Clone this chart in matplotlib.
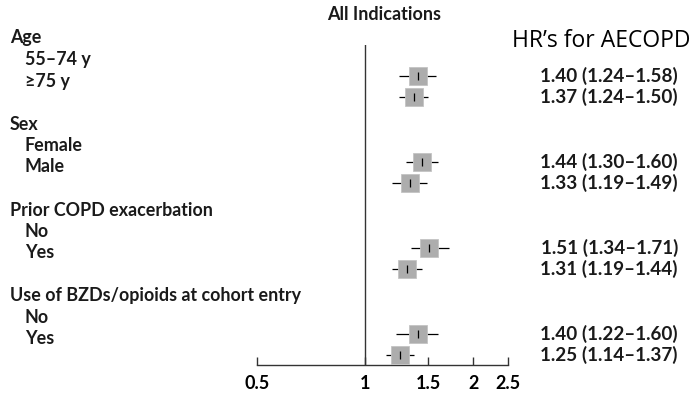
import numpy as np
import matplotlib.pyplot as plt

# rows of the left-hand label column (header rows have no indent)
labels = ["Age", "55\u201374 y", "\u226575 y", "",
          "Sex", "Female", "Male", "",
          "Prior COPD exacerbation", "No", "Yes", "",
          "Use of BZDs/opioids at cohort entry", "No", "Yes"]
is_header = [True, False, False, False,
             True, False, False, False,
             True, False, False, False,
             True, False, False]

# hazard ratios and 95% CI, one per subgroup row
data_rows = [1, 2, 5, 6, 9, 10, 13, 14]
hr = [1.40, 1.37, 1.44, 1.33, 1.51, 1.31, 1.40, 1.25]
lo = [1.24, 1.24, 1.30, 1.19, 1.34, 1.19, 1.22, 1.14]
hi = [1.58, 1.50, 1.60, 1.49, 1.71, 1.44, 1.60, 1.37]
row_shift = 0.76  # the marks sit a bit below their labels in the original

xticks = [0.5, 1, 1.5, 2, 2.5]
xticklabels = ["0.5", "1", "1.5", "2", "2.5"]

W, H = 693, 396
fig = plt.figure(figsize=(W / 100, H / 100), dpi=100)

bold = dict(family="Lato", fontweight="bold")

# axes: x 257..508 px, y 45..365 px
ax = fig.add_axes([257 / W, 1 - 365 / H, (508 - 257) / W, (365 - 45) / H])
ax.set_xscale("log")
ax.set_xlim(0.5, 2.5)
top_row = (45 - 38) / 21.5
bot_row = (365 - 38) / 21.5
ax.set_ylim(bot_row, top_row)

for s in ["top", "right", "left"]:
    ax.spines[s].set_visible(False)
ax.spines["bottom"].set_color("#333333")
ax.spines["bottom"].set_linewidth(1.0)
ax.axvline(1, color="#333333", lw=1.0)

ax.set_yticks([])
ax.set_xticks(xticks)
ax.set_xticklabels(xticklabels, **bold, fontsize=13)
ax.minorticks_off()
ax.tick_params(axis="x", direction="in", length=6, width=1, color="#333333", pad=7)

ys = np.array(data_rows) + row_shift
ax.hlines(ys, lo, hi, color="black", lw=0.9, zorder=2)
ax.plot(hr, ys, "s", ms=12.5, mfc="#adadad", mec="#c4c4c4", mew=0.6, zorder=3)
ax.plot(hr, ys, "|", ms=5.5, color="black", mew=0.9, zorder=4)

# left column labels
for i, (lab, hd) in enumerate(zip(labels, is_header)):
    if not lab:
        continue
    ypix = 38 + 21.5 * i
    xpix = 10 if hd else 25
    fig.text(xpix / W, 1 - ypix / H, lab, ha="left", va="center",
             fontsize=12.9, color="#1a1a1a", **bold)

# right column with HR (CI)
for y, h, l, u in zip(ys, hr, lo, hi):
    ypix = 38 + 21.5 * y
    fig.text(678 / W, 1 - ypix / H, f"{h:.2f} ({l:.2f}\u2013{u:.2f})",
             ha="right", va="center", fontsize=13.6, color="#1a1a1a", **bold)

fig.text(691 / W, 1 - 41 / H, "HR\u2019s for AECOPD", ha="right", va="center",
         fontsize=16.5, family="Open Sans", color="black")
fig.text(384 / W, 1 - 14 / H, "All Indications", ha="center", va="center",
         fontsize=13, color="#1a1a1a", **bold)

fig.savefig("out.png", dpi=100)
